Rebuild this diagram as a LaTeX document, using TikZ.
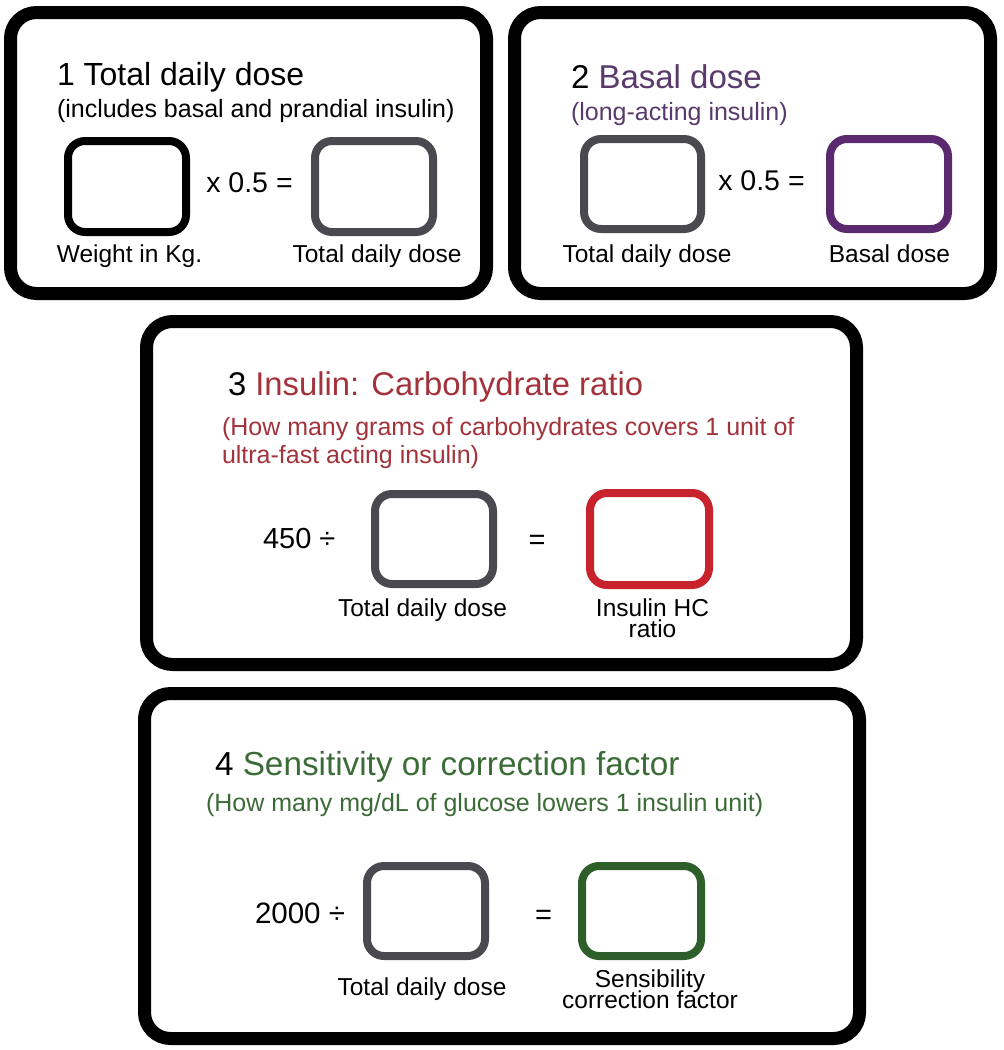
\documentclass[tikz,border=0pt]{standalone}
\usepackage{fontspec}
\setmainfont{Liberation Sans}
\definecolor{boxgray}{HTML}{4A494F}
\definecolor{purptxt}{HTML}{5A3A6C}
\definecolor{purpbox}{HTML}{5B2A6E}
\definecolor{redtxt}{HTML}{A3323B}
\definecolor{redbox}{HTML}{C8232C}
\definecolor{greentxt}{HTML}{3B6B36}
\definecolor{greenbox}{HTML}{2E5E2A}
\begin{document}
\begin{tikzpicture}[x=1pt,y=-1pt,
  panel/.style={draw=black, line width=13pt, rounded corners=26pt, inner sep=0pt, outer sep=0pt},
  inbox/.style={draw, line width=8pt, rounded corners=17pt, minimum width=118pt, minimum height=91pt, inner sep=0pt},
  txt/.style={inner sep=0pt, outer sep=0pt, text=black},
  ttl/.style={txt, anchor=base west, font=\fontsize{#1}{#1}\selectfont},
  sub/.style={txt, anchor=base west, font=\fontsize{25}{30}\selectfont},
  lbl/.style={txt, anchor=base, font=\fontsize{24.5}{24.5}\selectfont},
  lbltwo/.style={txt, anchor=north, align=center,
    font={\fontsize{24.5}{21}\selectfont\lineskiplimit=-100pt}},
  op/.style={txt, font=\fontsize{#1}{#1}\selectfont}
]
\useasboundingbox (0,0) rectangle (1004,1050);
\fill[white] (0,0) rectangle (1004,1050);

% ---------- Panel 1 ----------
\node[panel, minimum width=476pt, minimum height=281pt] (p1) at (248.5,153) {};
\node[ttl=32] (t1) at (57,85) {1 Total daily dose};
\node[sub] (s1) at (57,117) {(includes basal and prandial insulin)};
\node[inbox, draw=black] (w1) at (127,186.5) {};
\node[inbox, draw=boxgray] (d1) at (374,186.5) {};
\node[op=28.5, anchor=base] (m1) at (249.5,192) {x 0.5 =};
\node[lbl] (lw1) at (129.5,262) {Weight in Kg.};
\node[lbl] (ld1) at (377,262) {Total daily dose};

% ---------- Panel 2 ----------
\node[panel, minimum width=476pt, minimum height=281pt] (p2) at (752.5,153) {};
\node[ttl=33] (t2) at (571,88) {2 \textcolor{purptxt}{Basal dose}};
\node[sub, text=purptxt] (s2) at (571,120) {(long-acting insulin)};
\node[inbox, draw=boxgray, minimum width=117pt, minimum height=90pt] (d2) at (642.5,184) {};
\node[inbox, draw=purpbox, minimum width=118pt, minimum height=90pt] (b2) at (889,184) {};
\node[op=28.5, anchor=base] (m2) at (761.5,190) {x 0.5 =};
\node[lbl] (ld2) at (647,262) {Total daily dose};
\node[lbl] (lb2) at (889.5,262) {Basal dose};

% ---------- Panel 3 ----------
\node[panel, minimum width=710pt, minimum height=343pt] (p3) at (501.5,493) {};
\node[ttl=32.8] (t3) at (228,395) {3 \textcolor{redtxt}{Insulin: Carbohydrate ratio}};
\node[sub, text=redtxt] (s3a) at (222,435) {(How many grams of carbohydrates covers 1 unit of};
\node[sub, text=redtxt] (s3b) at (222,463) {ultra-fast acting insulin)};
\node[op=29, anchor=base west] (n3) at (263,548) {450 ÷};
\node[inbox, draw=boxgray, minimum height=90pt] (d3) at (434,539) {};
\node[op=29, anchor=base] (e3) at (537,549) {=};
\node[inbox, draw=redbox, minimum width=119pt, minimum height=92pt] (r3) at (649.5,539) {};
\node[lbl] (ld3) at (422.5,616) {Total daily dose};
\node[lbltwo] (lr3) at (652.5,599.2) {Insulin HC\\ratio};

% ---------- Panel 4 ----------
\node[panel, minimum width=715pt, minimum height=345pt] (p4) at (502,866) {};
\node[ttl=33.3] (t4) at (215,775) {4 \textcolor{greentxt}{Sensitivity or correction factor}};
\node[sub, text=greentxt] (s4) at (206,811) {(How many mg/dL of glucose lowers 1 insulin unit)};
\node[op=29.5, anchor=base west] (n4) at (255,923) {2000 ÷};
\node[inbox, draw=boxgray, minimum height=90pt] (d4) at (426,911) {};
\node[op=29, anchor=base] (e4) at (543.5,924) {=};
\node[inbox, draw=greenbox, minimum width=119pt, minimum height=90pt] (g4) at (641.5,911) {};
\node[lbl] (ld4) at (422,995) {Total daily dose};
\node[lbltwo] (lg4) at (650,970.2) {Sensibility\\correction factor};
\end{tikzpicture}
\end{document}
